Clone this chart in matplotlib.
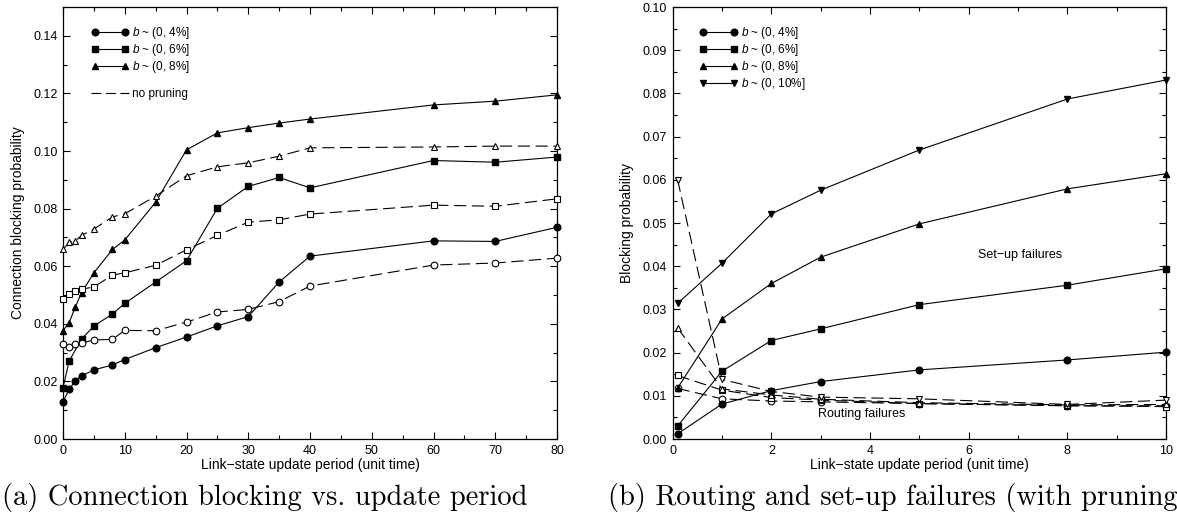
import matplotlib
matplotlib.use("Agg")
import matplotlib.pyplot as plt
from matplotlib.ticker import MultipleLocator, FormatStrFormatter
from matplotlib.lines import Line2D

plt.rcParams['font.family'] = ['Liberation Sans', 'DejaVu Sans']
plt.rcParams['mathtext.fontset'] = 'custom'
plt.rcParams['mathtext.it'] = 'Liberation Sans:italic'
plt.rcParams['mathtext.rm'] = 'Liberation Sans'

# (a) connection blocking vs. link-state update period
period_a = [0, 1, 2, 3, 5, 8, 10, 15, 20, 25, 30, 35, 40, 60, 70, 80]
period_a6 = [0, 1, 3, 5, 8, 10, 15, 20, 25, 30, 35, 40, 60, 70, 80]
prune4 = [0.0129, 0.0173, 0.0201, 0.0219, 0.0240, 0.0257, 0.0276, 0.0317, 0.0354,
          0.0393, 0.0425, 0.0545, 0.0635, 0.0688, 0.0686, 0.0735]
prune6 = [0.0178, 0.0271, 0.0347, 0.0392, 0.0434, 0.0471, 0.0545, 0.0619,
          0.0801, 0.0877, 0.0908, 0.0872, 0.0967, 0.0961, 0.0979]
prune8 = [0.0376, 0.0404, 0.0459, 0.0508, 0.0577, 0.0658, 0.0691, 0.0822, 0.1004,
          0.1063, 0.1081, 0.1097, 0.1111, 0.1160, 0.1173, 0.1195]
nop4 = [0.0329, 0.0320, 0.0330, 0.0333, 0.0344, 0.0346, 0.0377, 0.0376, 0.0406,
        0.0441, 0.0450, 0.0477, 0.0531, 0.0604, 0.0611, 0.0628]
nop6 = [0.0487, 0.0504, 0.0513, 0.0520, 0.0528, 0.0569, 0.0577, 0.0603, 0.0657,
        0.0707, 0.0753, 0.0761, 0.0781, 0.0812, 0.0808, 0.0834]
nop8 = [0.0658, 0.0683, 0.0688, 0.0707, 0.0729, 0.0771, 0.0782, 0.0843, 0.0914,
        0.0945, 0.0959, 0.0982, 0.1011, 0.1014, 0.1017, 0.1017]

# (b) set-up and routing failures with pruning
period_b = [0.1, 1, 2, 3, 5, 8, 10]
setup4 = [0.0012, 0.0081, 0.0112, 0.0133, 0.0160, 0.0183, 0.0201]
setup6 = [0.0030, 0.0157, 0.0228, 0.0255, 0.0311, 0.0356, 0.0394]
setup8 = [0.0118, 0.0278, 0.0360, 0.0421, 0.0498, 0.0579, 0.0614]
setup10 = [0.0314, 0.0407, 0.0521, 0.0576, 0.0669, 0.0787, 0.0831]
route4 = [0.0117, 0.0093, 0.0088, 0.0086, 0.0082, 0.0077, 0.0077]
route6 = [0.0147, 0.0113, 0.0096, 0.0090, 0.0082, 0.0077, 0.0075]
route8 = [0.0257, 0.0116, 0.0102, 0.0092, 0.0084, 0.0079, 0.0080]
route10 = [0.0600, 0.0138, 0.0110, 0.0097, 0.0093, 0.0080, 0.0090]

labels = ['$b$ ~ (0, 4%]', '$b$ ~ (0, 6%]', '$b$ ~ (0, 8%]', '$b$ ~ (0, 10%]']
marks = ['o', 's', '^', 'v']

LW = 0.8
MS = 4.8
DASH = (11, 5)

fig = plt.figure(figsize=(11.77, 5.25), dpi=100)
ax1 = fig.add_axes([63 / 1177, 86 / 525, 494 / 1177, 432 / 525])
ax2 = fig.add_axes([672.7 / 1177, 86 / 525, 493.3 / 1177, 432 / 525])

# left panel
for y, m in zip([prune4, prune8], ['o', '^']):
    ax1.plot(period_a, y, '-', color='k', lw=LW, marker=m, ms=MS, mfc='k', mec='k',
             clip_on=False, zorder=3)
ax1.plot(period_a6, prune6, '-', color='k', lw=LW, marker='s', ms=MS * 0.95, mfc='k',
         mec='k', clip_on=False, zorder=3)
for y, m in zip([nop4, nop6, nop8], ['o', 's', '^']):
    ax1.plot(period_a, y, color='k', lw=LW, dashes=DASH, marker=m, ms=MS, mfc='white',
             mec='k', mew=0.8, clip_on=False, zorder=4)

ax1.set_xlim(0, 80)
ax1.set_ylim(0, 0.15)
ax1.xaxis.set_major_locator(MultipleLocator(10))
ax1.xaxis.set_minor_locator(MultipleLocator(5))
ax1.yaxis.set_major_locator(MultipleLocator(0.02))
ax1.yaxis.set_minor_locator(MultipleLocator(0.01))
ax1.yaxis.set_major_formatter(FormatStrFormatter('%.2f'))
ax1.set_xlabel('Link\u2212state update period (unit time)', fontsize=10, labelpad=1)
ax1.set_ylabel('Connection blocking probability', fontsize=10, labelpad=6)

legend_kw = dict(loc='upper left', frameon=False, fontsize=8.5, handlelength=3.2,
                 handletextpad=0.3, labelspacing=0.08, borderpad=0, borderaxespad=0)

h1 = [Line2D([], [], color='k', lw=LW, marker=m, ms=MS, mfc='k', mec='k')
      for m in marks[:3]]
leg1 = ax1.legend(h1, labels[:3], bbox_to_anchor=(0.057, 0.958), numpoints=2,
                  **legend_kw)
ax1.add_artist(leg1)
h2 = [Line2D([], [], color='k', lw=LW, dashes=(9, 4))]
ax1.legend(h2, ['no pruning'], bbox_to_anchor=(0.057, 0.812), **legend_kw)

# right panel
for y, m in zip([route4, route6, route8, route10], marks):
    ax2.plot(period_b, y, color='k', lw=LW, dashes=DASH, marker=m, ms=MS, mfc='white',
             mec='k', mew=0.8, clip_on=False, zorder=3)
for y, m in zip([setup4, setup6, setup8, setup10], marks):
    ax2.plot(period_b, y, '-', color='k', lw=LW, marker=m, ms=MS, mfc='k', mec='k',
             clip_on=False, zorder=4)

ax2.set_xlim(0, 10)
ax2.set_ylim(0, 0.10)
ax2.xaxis.set_major_locator(MultipleLocator(2))
ax2.xaxis.set_minor_locator(MultipleLocator(1))
ax2.yaxis.set_major_locator(MultipleLocator(0.01))
ax2.yaxis.set_minor_locator(MultipleLocator(0.005))
ax2.yaxis.set_major_formatter(FormatStrFormatter('%.2f'))
ax2.set_xlabel('Link\u2212state update period (unit time)', fontsize=10, labelpad=1)
ax2.set_ylabel('Blocking probability', fontsize=10, labelpad=6)
ax2.text(7.04, 0.0426, 'Set\u2212up failures', fontsize=9, ha='center', va='center')
ax2.text(3.84, 0.0058, 'Routing failures', fontsize=9, ha='center', va='center')

h3 = [Line2D([], [], color='k', lw=LW, marker=m, ms=MS, mfc='k', mec='k')
      for m in marks]
ax2.legend(h3, labels, bbox_to_anchor=(0.055, 0.958), numpoints=2, **legend_kw)

for ax in (ax1, ax2):
    ax.tick_params(which='both', direction='in', top=True, right=True, labelsize=9,
                   width=0.8, pad=4)
    ax.tick_params(which='major', length=5)
    ax.tick_params(which='minor', length=3)
    for sp in ax.spines.values():
        sp.set_linewidth(0.9)

# sub-captions, set in Computer Modern
fig.text(2 / 1177, 0.053, '(a) Connection blocking vs. update period',
         family='cmr10', fontsize=20.5, ha='left', va='center')
fig.text(1.0, 0.053, '(b) Routing and set-up failures (with pruning',
         family='cmr10', fontsize=20.5, ha='right', va='center')

fig.savefig('out.png', dpi=100)
